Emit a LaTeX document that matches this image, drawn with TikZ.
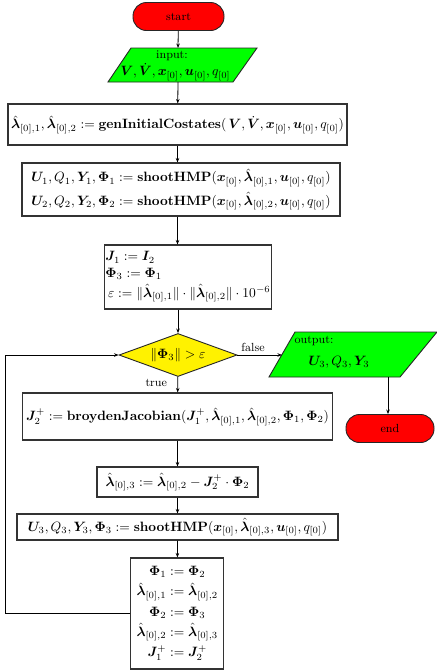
\documentclass[tikz,border=0pt]{standalone}
\usepackage{amsmath,bm}
\usetikzlibrary{arrows.meta,shapes.geometric}
\newcommand{\lh}[1]{\hat{\bm{\lambda}}_{[0],#1}}
\newcommand{\xz}{\bm{x}_{[0]}}
\newcommand{\uz}{\bm{u}_{[0]}}
\newcommand{\qz}{q_{[0]}}
\newcommand{\lblfont}{\fontsize{8.7}{10}\selectfont}
\def\s{0.74}
\tikzset{
  procbox/.style={draw=black!80, line width=\s*1.1pt, fill=white, inner sep=1pt, minimum width=\s*#1 pt},
  termbox/.style={draw=black!85, line width=\s*0.9pt, fill=red, rounded corners=\s*13.5pt, minimum width=\s*91pt, minimum height=\s*28pt, inner sep=0pt, font=\lblfont},
  iobox/.style={draw=black!85, line width=\s*0.9pt, fill=green},
  decbox/.style={diamond, draw=black!85, line width=\s*0.9pt, fill=yellow, minimum width=\s*118pt, minimum height=\s*43pt, aspect=2.74, inner sep=0pt},
  conn/.style={draw=black, line width=\s*0.8pt, -{Stealth[length=\s*4.5pt,width=\s*3.5pt]}},
  lbl/.style={font=\lblfont, inner sep=1pt}
}
\begin{document}
\begin{tikzpicture}[x=\s pt,y=-\s pt]
\useasboundingbox (0,0) rectangle (437,672);

% start
\node[termbox] (start) at (178.5,16.5) {start};

% input parallelogram
\draw[iobox] (131,48) -- (257,48) -- (233,82) -- (108,82) -- cycle;
\coordinate (intop) at (178,48);
\coordinate (inbot) at (178,82);
\node[lbl] (inlabel) at (172,56) {input:};
\node[inner sep=0pt] (inmath) at (175.5,72) {$\bm{V}, \dot{\bm{V}}, \xz, \uz, \qz$};

% box 1
\node[procbox=339, minimum height=\s*41pt] (b1) at (177.5,124.5)
  {$\lh{1}, \lh{2} := \mathbf{genInitialCostates}(\,\bm{V}, \dot{\bm{V}}, \xz, \uz, \qz)$};

% box 2
\node[procbox=318, minimum height=\s*53pt, align=center] (b2) at (181,189.5)
  {$\bm{U}_1, Q_1, \bm{Y}_1, \bm{\Phi}_1 := \mathbf{shootHMP}(\xz, \lh{1}, \uz, \qz)$\\[3pt]
   $\bm{U}_2, Q_2, \bm{Y}_2, \bm{\Phi}_2 := \mathbf{shootHMP}(\xz, \lh{2}, \uz, \qz)$};

% box 3
\node[procbox=160, minimum height=\s*64pt, align=left] (b3) at (188,277)
  {$\bm{J}_1 := \bm{I}_2$\\
   $\bm{\Phi}_3 := \bm{\Phi}_1$\\[3pt]
   \hspace*{2pt}$\varepsilon := \|\lh{1}\| \cdot \|\lh{2}\| \cdot 10^{-6}$};

% decision
\node[decbox] (dia) at (178,355) {$\|\bm{\Phi}_3\| > \varepsilon$};

% output parallelogram
\draw[iobox] (295,332) -- (437,332) -- (400,377) -- (269,377) -- cycle;
\coordinate (outleft) at (282,355);
\coordinate (outbot) at (388,377);
\node[lbl] (outlabel) at (314,341) {output:};
\node[inner sep=0pt] (outmath) at (339,362) {$\bm{U}_3, Q_3, \bm{Y}_3$};

% end
\node[termbox, minimum width=\s*88pt] (end) at (390,428.5) {end};

% box 4
\node[procbox=310, minimum height=\s*47pt] (b4) at (177.5,416.5)
  {$\bm{J}_2^+ := \mathbf{broydenJacobian}(\bm{J}_1^+, \lh{1}, \lh{2}, \bm{\Phi}_1, \bm{\Phi}_2)$};

% box 5
\node[procbox=161, minimum height=\s*30pt] (b5) at (177.5,482)
  {$\lh{3} := \lh{2} - \bm{J}_2^+ \cdot \bm{\Phi}_2$};

% box 6
\node[procbox=321, minimum height=\s*26pt] (b6) at (177.5,527)
  {$\bm{U}_3, Q_3, \bm{Y}_3, \bm{\Phi}_3 := \mathbf{shootHMP}(\xz, \lh{3}, \uz, \qz)$};

% box 7
\node[procbox=93, minimum height=\s*111pt, align=center] (b7) at (177.3,613.5)
  {$\bm{\Phi}_1 := \bm{\Phi}_2$\\[3pt]
   $\lh{1} := \lh{2}$\\[3pt]
   $\bm{\Phi}_2 := \bm{\Phi}_3$\\[3pt]
   $\lh{2} := \lh{3}$\\[2pt]
   $\bm{J}_1^+ := \bm{J}_2^+$};

% connectors
\draw[conn] (start) -- (intop);
\draw[conn] (inbot) -- (b1);
\draw[conn] (b1) -- (b2.north -| b1);
\draw[conn] (b2.south -| b1) -- (b3.north -| b1);
\draw[conn] (b3.south -| dia) -- (dia);
\draw[conn] (dia) -- node[lbl, pos=0.38, anchor=east, xshift=-\s*9pt] (truelbl) {true} (b4);
\draw[conn] (dia) -- node[lbl, pos=0.35, anchor=south, yshift=\s*2pt] (falselbl) {false} (outleft);
\draw[conn] (outbot) -- (end.north -| outbot);
\draw[conn] (b4) -- (b5);
\draw[conn] (b5) -- (b6);
\draw[conn] (b6) -- (b7);
\coordinate (loopx) at (5,0);
\draw[conn] (b7.west) -- (b7.west -| loopx) -- (dia.west -| loopx) -- (dia.west);
\end{tikzpicture}
\end{document}
